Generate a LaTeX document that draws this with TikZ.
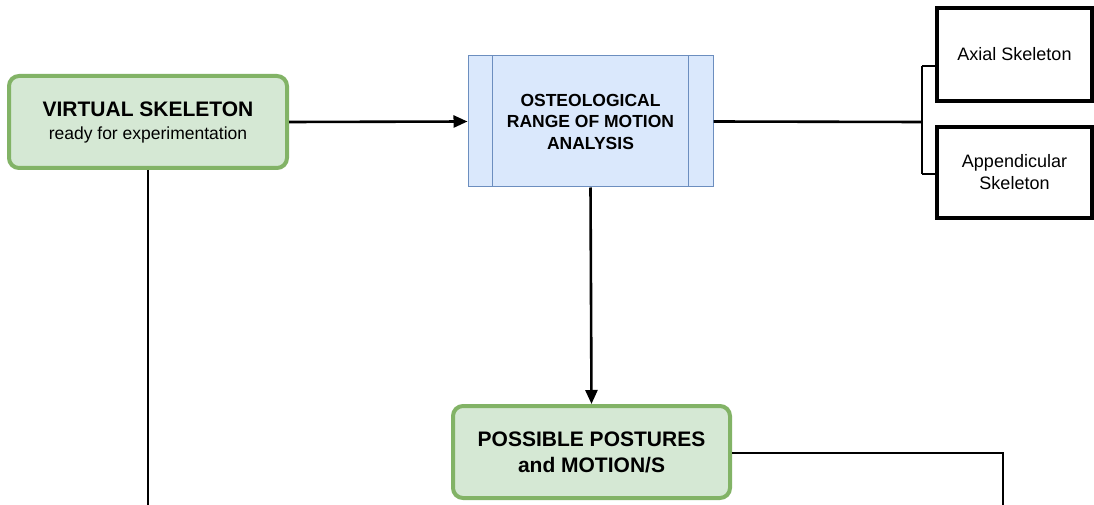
\documentclass[tikz,border=0pt]{standalone}
\usepackage{fontspec}
\setmainfont{Liberation Sans}
\usetikzlibrary{arrows.meta}
\definecolor{gfill}{HTML}{D5E8D4}
\definecolor{gline}{HTML}{82B366}
\definecolor{bfill}{HTML}{DAE8FC}
\definecolor{bline}{HTML}{6C8EBF}
\begin{document}
\begin{tikzpicture}[x=1pt,y=-1pt,
  greenbox/.style={draw=gline,fill=gfill,line width=4pt,rounded corners=10pt,align=center,inner sep=0pt},
  bluebox/.style={draw=bline,fill=bfill,line width=1pt,align=center,inner sep=0pt},
  blackbox/.style={draw=black,fill=white,line width=4pt,align=center,inner sep=0pt},
  conn/.style={line width=2.6pt},
  arr/.style={conn,-{Triangle[length=14pt,width=12pt]}}]
\useasboundingbox (0,0) rectangle (1094,505);
\node[greenbox,minimum width=278pt,minimum height=92pt,font=\fontsize{17.5}{23}\selectfont] (vs) at (148,122)
  {{\fontsize{21}{23}\selectfont\bfseries VIRTUAL SKELETON}\\ready for experimentation};
\node[bluebox,minimum width=245pt,minimum height=131pt,font=\fontsize{17.5}{21.5}\selectfont\bfseries] (os) at (590.5,121.5)
  {OSTEOLOGICAL\\RANGE OF MOTION\\ANALYSIS};
\draw[bline,line width=1pt] ([xshift=25pt]os.north west) -- ([xshift=25pt]os.south west);
\draw[bline,line width=1pt] ([xshift=-25pt]os.north east) -- ([xshift=-25pt]os.south east);
\node[blackbox,minimum width=155pt,minimum height=93pt,font=\fontsize{18}{22}\selectfont] (ax) at (1014.5,54.5)
  {Axial Skeleton};
\node[blackbox,minimum width=155pt,minimum height=91pt,font=\fontsize{18}{22}\selectfont] (ap) at (1014.5,172.5)
  {Appendicular\\Skeleton};
\node[greenbox,minimum width=277pt,minimum height=92pt,font=\fontsize{21}{26}\selectfont\bfseries] (pp) at (591.5,452)
  {POSSIBLE POSTURES\\and MOTION/S};
\coordinate (br) at (922,122);
\coordinate (e1) at (1003,505);
\coordinate (e2) at (148,505);
\draw[arr] (vs.east) -- (os.west);
\draw[conn] (os.east) -- (br);
\draw[conn] (922,66) -- (922,174);
\draw[conn] (922,66) -- (ax.west |- 0,66);
\draw[conn] (922,174) -- (ap.west |- 0,174);
\draw[arr] (os.south) -- (pp.north);
\draw[conn] (pp.east |- 0,453) -| (e1);
\draw[conn] (vs.south) -- (e2);
\end{tikzpicture}
\end{document}
